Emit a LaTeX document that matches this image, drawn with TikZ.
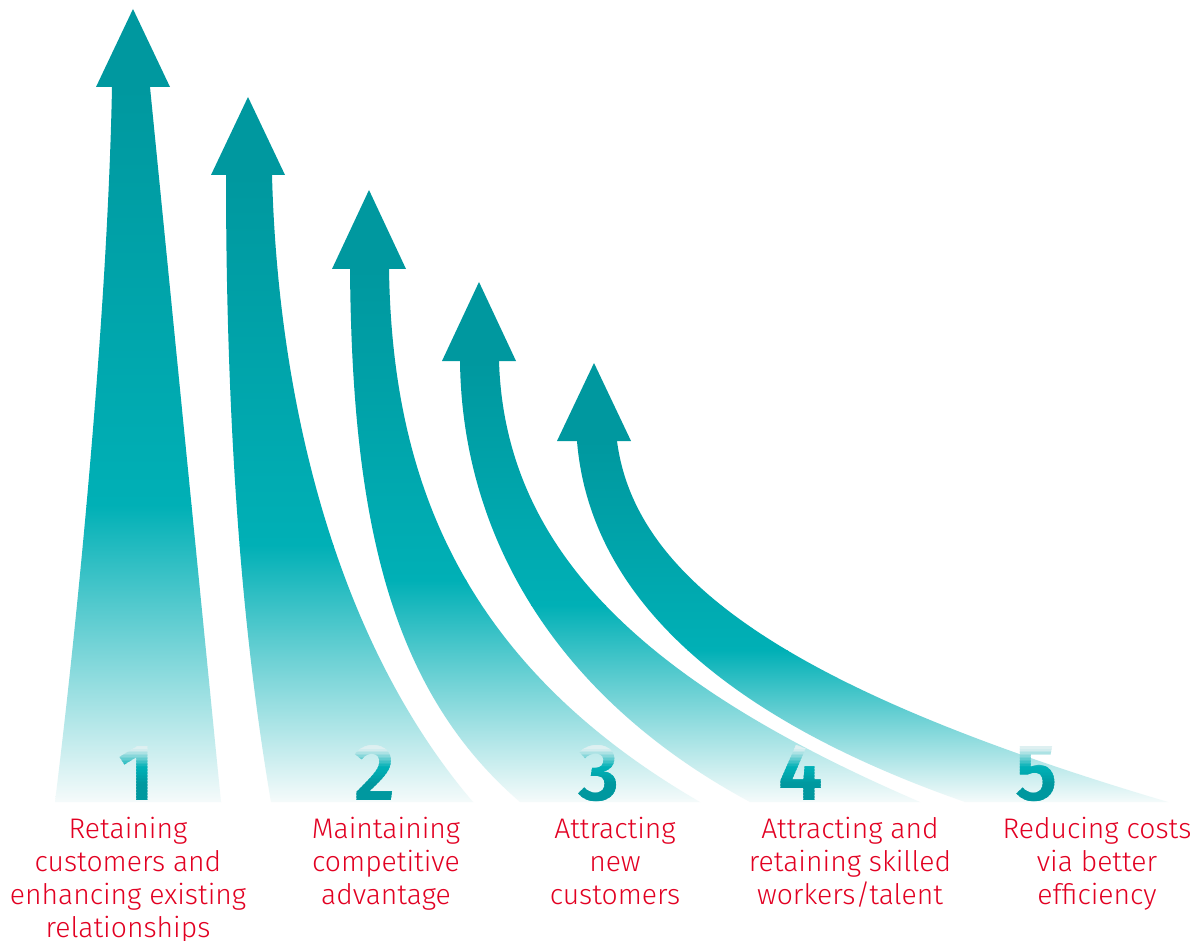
\documentclass[tikz,border=0pt]{standalone}
\usepackage{fontspec}
\setmainfont{Fira Sans Light}
\newfontfamily\digitfam{Fira Sans SemiBold}

\definecolor{tealdark}{RGB}{0,152,159}
\definecolor{tealbright}{RGB}{0,176,182}
\definecolor{tealpale}{RGB}{246,251,251}
\definecolor{tealmist}{RGB}{222,240,241}
\definecolor{labelred}{RGB}{226,0,34}

\begin{document}
\begin{tikzpicture}[x=1pt, y=-1pt,
  headtip/.style={fill=tealdark},
  label/.style={text=labelred, font=\fontsize{28.3}{33}\selectfont,
    align=center, anchor=base, inner sep=0pt},
  digit/.style={inner sep=0pt, anchor=base,
    font=\digitfam\fontsize{80}{80}\selectfont}]

\useasboundingbox (0,0) rectangle (1197,941);
\fill[white] (0,0) rectangle (1197,941);

% #1 shaft path, #2 top y, #3 brightest y
\newcommand{\shaft}[3]{%
  \begin{scope}
    \clip #1;
    \shade[top color=tealdark, bottom color=tealbright]
      (0,#2-1) rectangle (1197,#3+0.6);
    \shade[top color=tealbright, bottom color=tealpale]
      (0,#3) rectangle (1197,803);
  \end{scope}}

% shafts
\shaft{(112,87) .. controls (108,300) and (80,600) .. (55,802)
  -- (221,802) -- (150,87) -- cycle}{87}{505}
\shaft{(226,175) .. controls (226,450) and (245,650) .. (271,802)
  -- (473,802) .. controls (335,640) and (278,400) .. (272,175) -- cycle}{175}{545}
\shaft{(350,269) .. controls (352,520) and (390,690) .. (520,802)
  -- (700,802) .. controls (455,660) and (392,470) .. (389,269) -- cycle}{269}{580}
\shaft{(460,361) .. controls (462,540) and (560,700) .. (750,802)
  -- (920,802) .. controls (660,690) and (505,560) .. (499,361) -- cycle}{361}{605}
\shaft{(577,441) .. controls (590,600) and (730,720) .. (965,802)
  -- (1168,802) .. controls (790,690) and (635,580) .. (617,441) -- cycle}{441}{650}

% arrow heads
\fill[headtip] (96,87) -- (133,9) -- (170,87) -- cycle;
\fill[headtip] (211,175) -- (248,97) -- (285,175) -- cycle;
\fill[headtip] (332,269) -- (369,190) -- (406,269) -- cycle;
\fill[headtip] (442,361) -- (479,282) -- (516,361) -- cycle;
\fill[headtip] (557,441) -- (594,363) -- (631,441) -- cycle;

% digits: drawn band by band so their colour runs from pale at the top
% through bright teal to dark teal at the foot
\foreach \k in {0,...,39} {
  \pgfmathsetmacro\ya{742+\k*1.5}
  \pgfmathsetmacro\f{(\k+0.5)/40}
  \pgfmathsetmacro\pa{min(max((\f-0.12)/0.3,0),1)*100}
  \pgfmathsetmacro\pb{min(max((\f-0.45)/0.25,0),1)*100}
  \colorlet{bandA}{tealbright!\pa!tealmist}
  \colorlet{bandcol}{tealdark!\pb!bandA}
  \begin{scope}
    \clip (0,\ya) rectangle (1197,\ya+1.7);
    \node[digit, text=bandcol] (d1) at (137,800) {1};
    \node[digit, text=bandcol] (d2) at (375,800) {2};
    \node[digit, text=bandcol] (d3) at (599,800) {3};
    \node[digit, text=bandcol] (d4) at (801,800) {4};
    \node[digit, text=bandcol] (d5) at (1037,800) {5};
  \end{scope}
}

% labels (anchored at the baseline of their last line)
\node[label] (l1) at (128,937) {Retaining\\customers and\\enhancing existing\\relationships};
\node[label] (l2) at (386,904) {Maintaining\\competitive\\advantage};
\node[label] (l3) at (615,904) {Attracting\\new\\customers};
\node[label] (l4) at (850,904) {Attracting and\\retaining skilled\\workers/talent};
\node[label] (l5) at (1097,904) {Reducing costs\\via better\\efficiency};
\end{tikzpicture}
\end{document}
